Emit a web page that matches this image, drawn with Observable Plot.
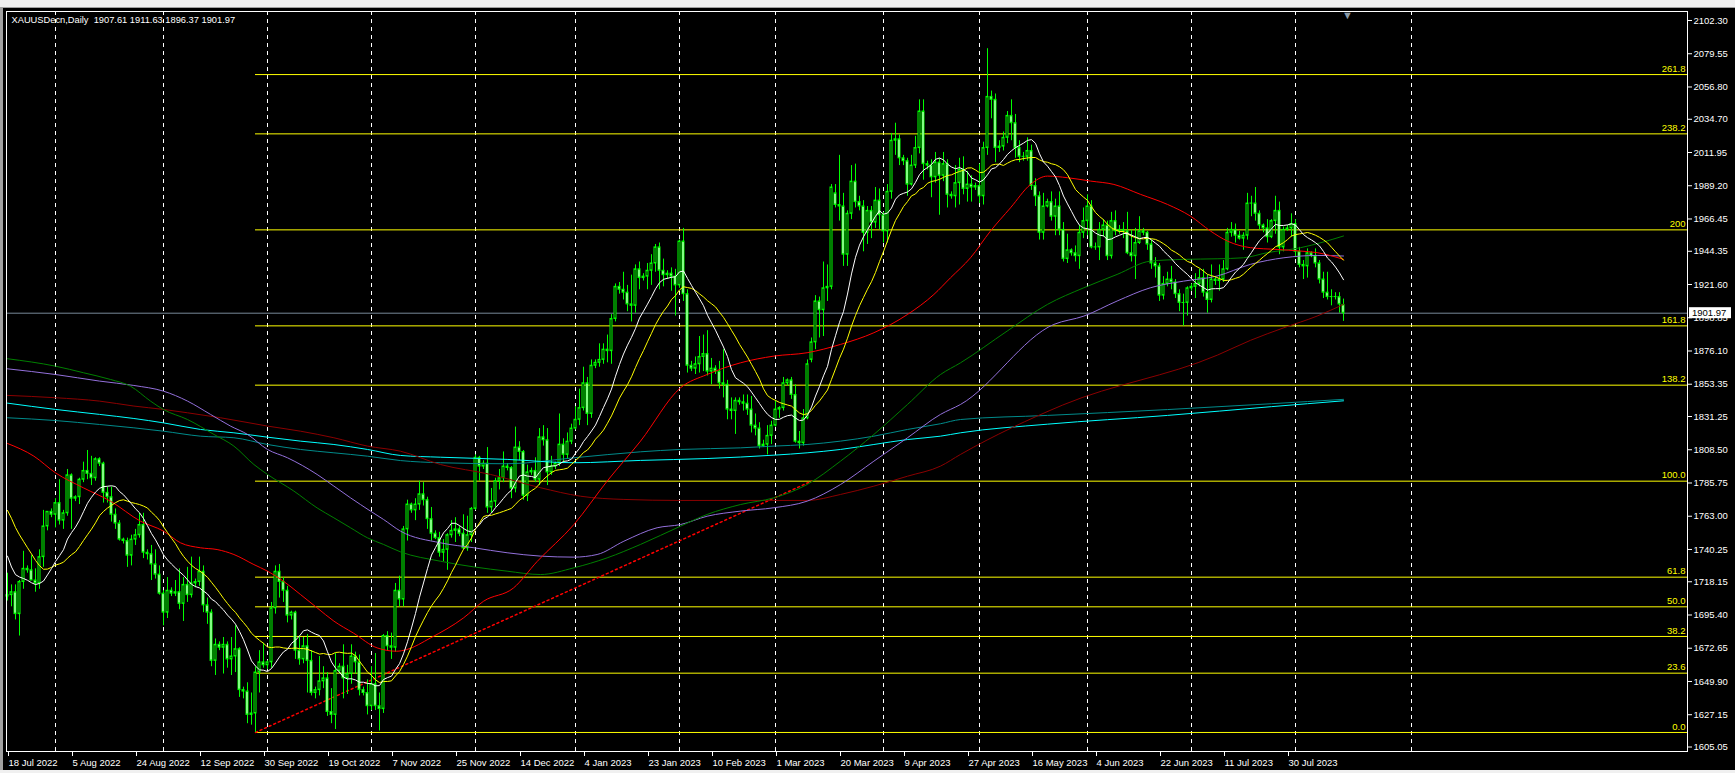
<!DOCTYPE html>
<html><head><meta charset="utf-8">
<script src="https://cdn.jsdelivr.net/npm/d3@7"></script>
<script src="https://cdn.jsdelivr.net/npm/@observablehq/plot@0.6"></script>
<style>
html,body{margin:0;padding:0;background:#f0f0f0;width:1735px;height:773px;overflow:hidden;}
#chart{position:absolute;left:0;top:0;}
#chart svg{display:block;}
.strip{position:absolute;background:#f0f0f0;}
</style></head><body>
<div id="chart"></div>
<div class="strip" style="left:0;top:0;width:1735px;height:7px;border-bottom:1px solid #a0a0a0;"></div>
<div class="strip" style="left:0;top:8px;width:3px;height:765px;background:#a0a0a0;"></div>
<div class="strip" style="left:0;top:770px;width:1735px;height:3px;"></div>
<script>
// ---------- DATA ----------
const symbolTitle = "XAUUSDecn,Daily  1907.61 1911.63 1896.37 1901.97";
const startDate = "2022-07-18";
const skippedDays = ["2022-12-25", "2023-01-01", "2023-04-07"];

const open = [1708,1709,1711,1696,1718,1727,1726,1719,1717,1735,1756,1766,1764,1772,1760,1765,1791,1775,1776,1788,1794,1792,1789,1802,1799,1779,1776,1764,1758,1747,1746,1736,1747,1750,1757,1738,1737,1730,1723,1710,1697,1712,1710,1711,1703,1716,1709,1717,1718,1725,1702,1697,1664,1675,1673,1675,1665,1667,1672,1644,1643,1627,1628,1656,1663,1661,1663,1700,1725,1718,1712,1695,1697,1671,1665,1674,1664,1642,1644,1650,1652,1629,1627,1657,1660,1652,1655,1667,1663,1644,1642,1633,1648,1633,1631,1681,1674,1673,1712,1706,1754,1771,1767,1771,1778,1774,1761,1751,1748,1738,1740,1750,1753,1754,1751,1741,1750,1768,1803,1797,1799,1769,1773,1787,1789,1797,1796,1782,1810,1807,1777,1793,1794,1788,1817,1815,1793,1797,1799,1812,1805,1814,1823,1829,1837,1854,1833,1866,1868,1870,1877,1876,1898,1920,1918,1916,1908,1907,1932,1926,1927,1931,1936,1947,1931,1928,1929,1927,1921,1951,1915,1866,1864,1867,1872,1874,1862,1864,1862,1854,1853,1836,1835,1842,1841,1840,1836,1825,1823,1811,1812,1818,1825,1836,1837,1854,1856,1846,1814,1813,1830,1870,1882,1910,1904,1919,1920,1984,1976,1975,1942,1970,1992,1978,1975,1957,1972,1964,1979,1969,1958,1985,2020,2021,2008,2006,1990,2003,2015,2040,2004,2003,1995,2005,1996,2004,1983,1982,1991,2000,1987,1990,1988,1989,1982,2015,2050,2048,2015,2016,2022,2037,2032,2015,2009,2009,2013,1989,1982,1957,1975,1978,1968,1975,1959,1939,1945,1943,1941,1957,1965,1975,1947,1947,1959,1962,1941,1965,1958,1959,1958,1943,1941,1950,1958,1957,1949,1936,1934,1914,1922,1925,1923,1915,1909,1909,1919,1920,1922,1926,1916,1911,1925,1924,1925,1932,1957,1959,1955,1953,1955,1977,1977,1970,1962,1960,1954,1965,1972,1947,1959,1960,1963,1944,1935,1934,1943,1941,1936,1925,1916,1913,1913,1913,1907.61];
const high = [1724,1716,1716,1719,1739,1729,1736,1727,1740,1767,1766,1768,1775,1788,1767,1795,1792,1777,1789,1800,1808,1804,1803,1803,1800,1783,1783,1768,1760,1748,1748,1750,1754,1765,1765,1740,1743,1740,1729,1712,1721,1714,1719,1727,1721,1728,1735,1720,1735,1729,1707,1699,1679,1677,1680,1677,1680,1688,1673,1646,1649,1642,1660,1671,1676,1664,1704,1729,1730,1721,1715,1698,1698,1681,1680,1682,1671,1646,1667,1660,1656,1645,1669,1662,1675,1661,1675,1670,1668,1646,1651,1660,1669,1642,1682,1684,1683,1717,1722,1756,1774,1772,1775,1787,1786,1776,1769,1753,1752,1747,1751,1760,1762,1756,1764,1763,1769,1805,1804,1801,1810,1782,1789,1795,1807,1799,1797,1824,1814,1808,1798,1796,1803,1823,1825,1823,1804,1800,1833,1816,1820,1826,1838,1850,1865,1858,1870,1870,1881,1881,1887,1901,1922,1923,1930,1921,1928,1935,1937,1929,1936,1942,1949,1950,1939,1931,1933,1932,1952,1960,1918,1869,1872,1886,1887,1890,1871,1866,1869,1877,1856,1844,1844,1844,1846,1846,1845,1833,1827,1815,1825,1828,1842,1838,1858,1857,1858,1853,1821,1836,1870,1885,1914,1913,1937,1935,1990,1990,2010,1984,1972,2003,2004,1982,1979,1975,1975,1988,1987,1971,1990,2025,2032,2024,2010,2008,2010,2023,2048,2048,2006,2007,2012,2008,2012,2007,1985,2003,2008,2009,1999,1996,1991,2004,2019,2083,2054,2052,2020,2026,2040,2048,2038,2020,2012,2022,2017,1994,1985,1984,1980,1985,1980,1985,1964,1956,1946,1948,1962,1974,1983,1979,1950,1964,1966,1965,1971,1972,1962,1964,1971,1959,1960,1968,1960,1958,1952,1940,1936,1927,1930,1934,1925,1918,1915,1920,1922,1929,1932,1932,1928,1935,1927,1935,1938,1960,1964,1963,1958,1957,1984,1982,1988,1972,1963,1966,1966,1982,1978,1961,1962,1970,1966,1947,1938,1946,1944,1946,1938,1930,1930,1918,1916,1916,1911.63];
const low = [1705,1701,1692,1681,1713,1724,1719,1711,1713,1728,1753,1762,1755,1757,1754,1763,1754,1773,1771,1786,1788,1784,1787,1797,1772,1772,1759,1754,1746,1744,1728,1729,1743,1748,1734,1733,1719,1720,1709,1688,1693,1708,1708,1699,1691,1704,1707,1714,1715,1697,1689,1660,1654,1671,1655,1659,1654,1656,1639,1638,1621,1620,1615,1642,1659,1658,1659,1696,1707,1704,1690,1692,1665,1661,1662,1642,1640,1638,1640,1645,1626,1621,1617,1655,1638,1641,1648,1655,1640,1640,1627,1630,1630,1616,1628,1671,1665,1670,1701,1701,1746,1765,1760,1767,1770,1754,1746,1747,1735,1732,1726,1748,1745,1749,1740,1739,1745,1767,1787,1795,1765,1765,1769,1781,1786,1794,1775,1779,1801,1774,1773,1791,1786,1784,1811,1784,1791,1795,1797,1799,1802,1812,1822,1825,1835,1825,1830,1864,1865,1867,1868,1867,1896,1915,1911,1903,1896,1902,1918,1924,1918,1921,1930,1918,1920,1925,1917,1900,1919,1910,1861,1862,1860,1861,1862,1859,1853,1860,1850,1844,1829,1829,1819,1839,1835,1832,1820,1818,1809,1810,1805,1812,1824,1830,1835,1852,1843,1813,1809,1811,1829,1868,1877,1885,1886,1910,1918,1974,1965,1934,1934,1966,1974,1972,1944,1949,1953,1960,1959,1950,1950,1980,2010,2003,2003,1982,1989,2001,2011,1993,2000,1981,1991,1969,1992,1974,1980,1974,1976,1983,1978,1978,1986,1977,1976,2010,2035,2005,2012,2013,2018,2020,2008,2005,2006,2006,1986,1975,1952,1952,1974,1965,1955,1955,1937,1936,1941,1937,1932,1953,1955,1946,1945,1938,1954,1938,1939,1955,1956,1953,1942,1937,1925,1949,1955,1945,1932,1926,1910,1911,1920,1918,1912,1903,1893,1900,1917,1912,1920,1913,1902,1909,1921,1917,1923,1931,1954,1950,1952,1945,1952,1968,1965,1959,1957,1950,1953,1956,1942,1944,1958,1954,1940,1933,1925,1926,1940,1933,1922,1912,1911,1907,1911,1902,1896.37];
const close = [1709,1711,1696,1718,1727,1726,1719,1717,1735,1756,1766,1764,1772,1760,1765,1791,1775,1776,1788,1794,1792,1789,1802,1799,1779,1776,1764,1758,1747,1746,1736,1747,1750,1757,1738,1737,1730,1723,1710,1697,1712,1710,1711,1703,1716,1709,1717,1718,1725,1702,1697,1664,1675,1673,1675,1665,1667,1672,1644,1643,1627,1628,1656,1663,1661,1663,1700,1725,1718,1712,1695,1697,1671,1665,1674,1664,1642,1644,1650,1652,1629,1627,1657,1660,1652,1655,1667,1663,1644,1642,1633,1648,1633,1631,1681,1674,1673,1712,1706,1754,1771,1767,1771,1778,1774,1761,1751,1748,1738,1740,1750,1753,1754,1751,1741,1750,1768,1803,1797,1799,1769,1773,1787,1789,1797,1796,1782,1810,1807,1777,1793,1794,1788,1817,1815,1793,1797,1799,1812,1805,1814,1823,1829,1837,1854,1833,1866,1868,1870,1877,1876,1898,1920,1918,1916,1908,1907,1932,1926,1927,1931,1936,1947,1931,1928,1929,1927,1921,1951,1915,1866,1864,1867,1872,1874,1862,1864,1862,1854,1853,1836,1835,1842,1841,1840,1836,1825,1823,1811,1812,1818,1825,1836,1837,1854,1856,1846,1814,1813,1830,1867,1882,1910,1904,1919,1920,1988,1976,1975,1942,1970,1992,1978,1975,1957,1972,1964,1979,1969,1958,1985,2020,2021,2008,2006,1990,2003,2015,2040,2004,2003,1995,2005,1996,2004,1983,1982,1991,2000,1987,1990,1988,1989,1982,2015,2050,2048,2015,2016,2022,2037,2032,2015,2009,2009,2013,1989,1982,1957,1975,1978,1968,1975,1959,1939,1945,1943,1941,1957,1965,1975,1947,1947,1959,1962,1941,1965,1958,1959,1958,1943,1941,1950,1958,1957,1949,1936,1934,1914,1922,1925,1923,1915,1909,1909,1919,1920,1922,1926,1916,1911,1925,1924,1925,1932,1957,1959,1955,1953,1955,1977,1977,1970,1962,1960,1954,1965,1972,1947,1959,1960,1963,1944,1935,1934,1943,1941,1936,1925,1916,1913,1913,1913,1908,1901.97];
// closes of the 20 bars before the first visible bar (needed by the 13/21 bar averages)
const priorCloses = [1826,1828,1823,1820,1818,1807,1811,1810,1808,1764,1739,1740,1742,1741,1733,1725,1735,1711,1708,1709];

// slow moving averages: [bar, price]
const maRed = [[0,1812.8],[6.6,1804.1],[12,1792.7],[19,1782.4],[25.75,1773.3],[33.25,1759.6],[39,1752.8],[43.25,1744.8],[48.25,1741.4],[52.4,1740.2],[56.6,1736.8],[61.6,1729.9],[65,1725.4],[69,1718.5],[73.25,1709.4],[77.4,1700.3],[81.6,1691.2],[86.5,1683],[92.4,1672.9],[97.25,1670.6],[99.75,1671.7],[105.75,1679.7],[114,1693.4],[119,1704.8],[126.5,1713.9],[132.4,1732],[141.6,1757.3],[149.9,1787],[158.25,1814.4],[168.25,1850.9],[174.9,1860],[183.25,1868],[191.6,1872.6],[199.9,1874.9],[208.25,1880.6],[216.6,1888.6],[225,1901.1],[231.6,1914.8],[235.75,1926.2],[240.75,1939.9],[245.75,1958.2],[250.75,1974.1],[255.75,1990.1],[260,1995.8],[265,1994.7],[270.75,1992.4],[276.6,1990.1],[283.25,1983.3],[290,1976.4],[295.75,1968.4],[300.75,1958.2],[305,1951.3],[310.75,1946.8],[317.4,1945.6],[323.25,1944.5],[327.4,1943.4],[334,1938.8]];
const maGreen = [[0,1870.8],[12,1865.7],[19,1861.2],[25.75,1856.6],[30.75,1852],[35.75,1841.8],[39,1836],[45,1829.2],[51.6,1819],[56.6,1811],[61.6,1798.4],[65,1791.6],[71.6,1780.2],[77.4,1768.7],[81.6,1761.9],[85.75,1755.1],[90,1748.2],[94,1743.7],[98.25,1738.6],[108.25,1732.2],[124.9,1725.4],[133.25,1723.1],[141.6,1727.7],[149.9,1734.5],[158.25,1743.7],[168.25,1756.2],[174.9,1764.2],[183.25,1771],[191.6,1775.6],[199.9,1784.7],[208.25,1800.7],[216.6,1819],[225,1839.5],[233.25,1860],[238.25,1868],[249.9,1889.7],[260,1908],[269.1,1919.4],[277.4,1928.5],[285.75,1937.6],[294,1938.8],[302.4,1939.2],[309,1939.9],[314.8,1943.3],[323.25,1946.8],[334,1954.8]];
const maPurple = [[0,1863.9],[12,1860],[23,1855.5],[31.6,1852.5],[39,1848.6],[45,1841.8],[50.75,1832.7],[55.75,1824.7],[60,1819],[65,1808.7],[70,1803],[77.4,1791.6],[81.6,1783.6],[85.75,1775.6],[90.75,1766.5],[94,1760.8],[98.25,1752.8],[108.25,1744.8],[116.6,1741.4],[124.9,1738],[133.25,1735.7],[141.6,1735],[147.4,1736.8],[154.1,1745.9],[162.4,1755.1],[168.25,1757.3],[174.9,1763],[183.25,1766.5],[191.6,1768.8],[199.9,1773.3],[208.25,1784.7],[216.6,1800.7],[225,1816.7],[233.25,1832.7],[238.25,1839.5],[261.6,1894.3],[269.1,1900],[277.4,1910.3],[285.75,1919.4],[294,1923.9],[302.4,1927.4],[310.75,1935.4],[319.1,1939.9],[327.4,1941.5],[334,1941.1]];
const maDarkRed = [[0,1845.7],[12,1844.1],[23,1841.8],[31.6,1838.4],[39,1836.1],[45,1833.8],[53.25,1830.4],[65,1824.7],[73.25,1821.2],[81.6,1816.7],[90,1811],[98.25,1807.5],[108.25,1798.4],[120.75,1791.6],[133.25,1782.5],[143.25,1776.7],[154.1,1774.5],[168.25,1773.8],[191.6,1773.8],[199.9,1773.8],[208.25,1777.9],[216.6,1783.6],[225,1790.4],[233.25,1797.3],[238.25,1805.3],[263.8,1839.1],[302.5,1873.3],[310.75,1883.4],[319.1,1892],[327.4,1900],[334,1908]];
const maCyan = [[0,1840.4],[12,1836.1],[23,1832.7],[31.6,1829.9],[39,1826.9],[48.25,1822.4],[56.6,1820.1],[65,1817.1],[73.25,1814.4],[81.6,1812.1],[90,1808.7],[98.25,1804.6],[108.25,1803.4],[124.9,1801.9],[141.6,1799.6],[158.25,1801.2],[174.9,1802.5],[191.6,1804.8],[199.9,1806.4],[208.25,1808.7],[216.6,1812.1],[225,1815.5],[233.25,1817.8],[238.25,1820.1],[260,1826],[290,1832],[316,1838],[334,1842]];
const maTeal = [[0,1830.4],[12,1828.5],[23,1825.8],[31.6,1823.5],[39,1821.2],[48.25,1817.8],[56.6,1816.7],[65,1812.1],[73.25,1808.7],[81.6,1806.4],[90,1804.1],[98.25,1801.1],[108.25,1799.6],[124.9,1798.9],[141.6,1803],[158.25,1807.1],[168.25,1808.7],[183.25,1809.8],[191.6,1811],[199.9,1812.1],[208.25,1814.4],[216.6,1817.8],[225,1822.4],[233.25,1826.3],[238.25,1829.2],[260,1832],[290,1836],[316,1840],[334,1843]];

const yTickValues = [2102.30,2079.55,2056.80,2034.70,2011.95,1989.20,1966.45,1944.35,1921.60,1898.85,1876.10,1853.35,1831.25,1808.50,1785.75,1763.00,1740.25,1718.15,1695.40,1672.65,1649.90,1627.15,1605.05];
const fibLabels = ["0.0","23.6","38.2","50.0","61.8","100.0","138.2","161.8","200","238.2","261.8"];
const fibRatios = [0,0.236,0.382,0.5,0.618,1,1.382,1.618,2,2.382,2.618];
const fibAnchors = [{date: "2022-09-28", price: 1615.0}, {date: "2023-03-12", price: 1787.0}];
const xTickEvery = 16;
const visibleFutureBars = 86;   // empty space right of the last bar
const futureGridDays = 40;      // grid lines drawn this far past the last bar

// ---------- BUILD ----------
const skip = new Set(skippedDays);
const dates = [];
let dd = new Date(startDate + "T00:00:00Z");
while (dates.length < close.length) {
  const iso = dd.toISOString().slice(0, 10);
  if (dd.getUTCDay() !== 6 && !skip.has(iso)) dates.push(dd);
  dd = d3.utcDay.offset(dd, 1);
}
const n = close.length;
const allDates = dates.slice();
for (let k = 1; k <= futureGridDays; k++) allDates.push(d3.utcDay.offset(dates[n - 1], k));
const barOf = (iso) => dates.findIndex(d => d.toISOString().slice(0, 10) === iso);

const bars = close.map((c, i) => ({i, o: open[i], h: high[i], l: low[i], c}));
const allC = priorCloses.concat(close);
const P = priorCloses.length;
const sma = (k) => close.map((_, i) => ({i, v: d3.mean(allC.slice(P + i - k + 1, P + i + 1))}));
const ma13 = sma(13), ma21 = sma(21);

const monthStarts = [];
for (let i = 1; i < allDates.length; i++) if (allDates[i].getUTCMonth() !== allDates[i - 1].getUTCMonth()) monthStarts.push(i);
const xTicks = d3.range(0, n, xTickEvery);
const fmt = d3.utcFormat("%-d %b %Y");

const fibA = {i: barOf(fibAnchors[0].date), p: fibAnchors[0].price};
const fibB = {i: barOf(fibAnchors[1].date), p: fibAnchors[1].price};
const fibLevels = fibRatios.map((r, k) => ({price: fibA.p + r * (fibB.p - fibA.p), label: fibLabels[k]}));
const last = bars[n - 1];

const xDomain = [-0.25, n - 1 + visibleFutureBars];
const lime = "#00ff00";
const lineOf = (arr, color) => Plot.line(arr, {x: d => d[0], y: d => d[1], stroke: color, strokeWidth: 1, curve: "monotone-x"});

const plot = Plot.plot({
  width: 1735, height: 773,
  marginLeft: 6, marginRight: 48, marginTop: 11, marginBottom: 22,
  style: {background: "#000", color: "#fff", fontFamily: "'Liberation Sans', Arial, sans-serif", fontSize: "9.5px", overflow: "visible"},
  x: {domain: xDomain},
  y: {domain: [1601.97, 2108.46]},
  marks: [
    Plot.ruleX(monthStarts, {stroke: "#ffffff", strokeDasharray: "4,4", strokeWidth: 1}),
    Plot.ruleY(fibLevels, {y: "price", x1: fibA.i, x2: xDomain[1], stroke: "#ffff00"}),
    Plot.text(fibLevels, {y: "price", x: xDomain[1], text: "label", textAnchor: "end", dx: -2, dy: -6, fill: "#ffff00"}),
    Plot.ruleY([last], {y: "c", stroke: "#778899"}),
    Plot.line([fibA, fibB], {x: "i", y: "p", stroke: "#ff0000", strokeDasharray: "2,3"}),
    Plot.ruleX(bars, {x: "i", y1: "l", y2: "h", stroke: lime}),
    Plot.rect(bars, {x1: d => d.i - 0.375, x2: d => d.i + 0.375, y1: "o", y2: "c", fill: lime, insetTop: -0.5, insetBottom: -0.5}),
    Plot.rect(bars.filter(d => Math.abs(d.c - d.o) > 1.6), {x1: d => d.i - 0.125, x2: d => d.i + 0.125, y1: "o", y2: "c", fill: d => d.c >= d.o ? "#000000" : "#ffffff", insetTop: 1, insetBottom: 1}),
    lineOf(maTeal, "#008b8b"),
    lineOf(maCyan, "#00ffff"),
    lineOf(maDarkRed, "#8b0000"),
    lineOf(maPurple, "#9370db"),
    lineOf(maGreen, "#008000"),
    lineOf(maRed, "#ff0000"),
    Plot.line(ma21, {x: "i", y: "v", stroke: "#ffff00", strokeWidth: 1}),
    Plot.line(ma13, {x: "i", y: "v", stroke: "#ffffff", strokeWidth: 1}),
    Plot.frame({stroke: "#ffffff"}),
    Plot.axisY(yTickValues, {anchor: "right", tickSize: 4, tickPadding: 2, tickFormat: d => d.toFixed(2), color: "#ffffff", label: null}),
    Plot.axisX(xTicks, {anchor: "bottom", tickSize: 5, tickPadding: 3, tickFormat: i => fmt(dates[i]), textAnchor: "start", dx: 1, color: "#ffffff", label: null}),
    Plot.text([symbolTitle], {frameAnchor: "top-left", text: d => d, dx: 5, dy: 9, lineAnchor: "middle", textAnchor: "start", fill: "#ffffff", fontSize: 9.3}),
    Plot.text([n], {x: d => d, frameAnchor: "top", text: () => "\u25BC", fill: "#8a9aa8", fontSize: 11, dy: 4, lineAnchor: "middle"})
  ]
});
document.getElementById("chart").appendChild(plot);

// current price tag on the right axis
const ys = plot.scale("y"), xs = plot.scale("x");
const yy = ys.apply(last.c);
const xr = xs.range[1];
const svg = d3.select(plot);
svg.append("rect").attr("x", xr + 2).attr("y", yy - 5.5).attr("width", 42).attr("height", 11).attr("fill", "#ffffff");
svg.append("text").attr("x", xr + 5).attr("y", yy).attr("dy", "0.35em").attr("fill", "#000000")
  .attr("text-anchor", "start").attr("font-size", "9.5px").text(last.c.toFixed(2));
</script>
</body></html>
